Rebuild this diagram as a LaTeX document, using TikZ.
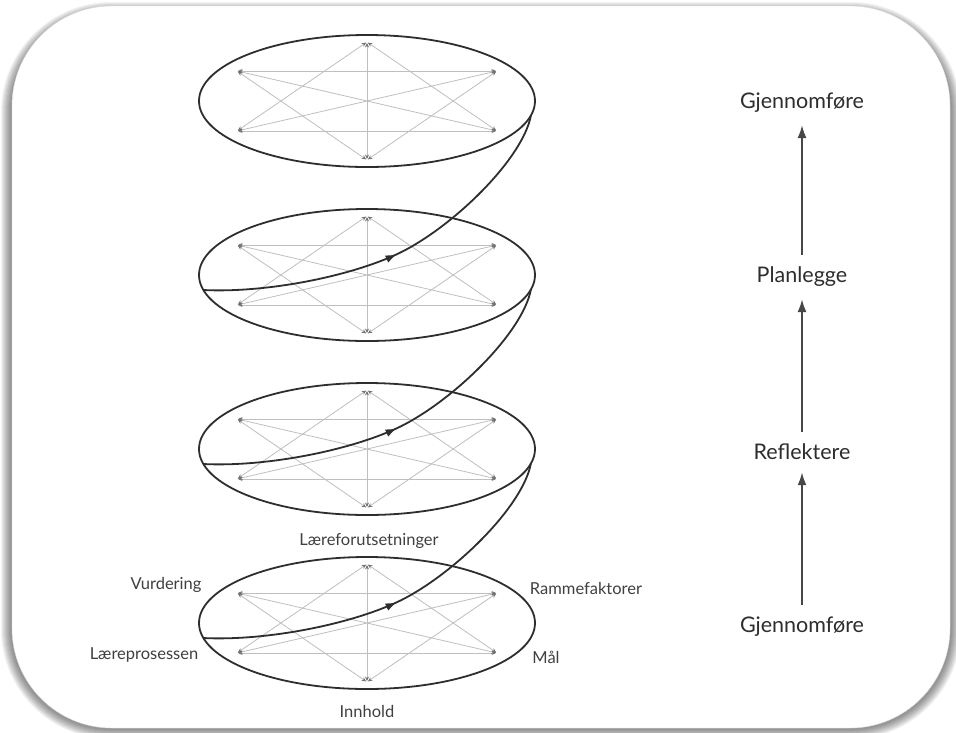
\documentclass[tikz,border=0pt]{standalone}
\usepackage{fontspec}
\setmainfont{Lato}
\usetikzlibrary{arrows.meta,decorations.markings,shapes.geometric}
\tikzset{
  disc/.style={ellipse, draw=black!82, line width=1.8pt, minimum width=336pt, minimum height=132pt, inner sep=0pt},
  hexl/.style={draw=black!25, line width=0.8pt, shorten <=1pt, shorten >=1pt,
    {Stealth[length=4.5pt,width=4pt,color=black!55]}-{Stealth[length=4.5pt,width=4pt,color=black!55]}},
  spiral/.style={draw=black!82, line width=1.8pt, postaction={decorate},
    decoration={markings, mark=at position 0.5 with {\arrow{Latex[length=11pt,width=8pt]}}}},
  lab/.style={text=black!75, inner sep=0pt, font=\fontsize{16.5}{19}\selectfont},
  rlab/.style={text=black!82, inner sep=0pt, font=\fontsize{21.5}{25}\selectfont},
  uparrow/.style={draw=black!72, line width=2pt, -{Latex[length=13pt,width=9pt]}, shorten <=12pt, shorten >=12pt}
}
\begin{document}
\begin{tikzpicture}[x=1pt,y=-1pt]
\useasboundingbox (0,0) rectangle (956,732);
% frame shadow
\foreach \k in {1,...,10}{
  \fill[black, opacity=0.05, rounded corners=100pt+\k pt] (12-\k-1,6-\k+6) rectangle (950+\k+1,728+\k+1);
}
\node[draw=black!12, line width=0.4pt, fill=white, rounded corners=100pt, minimum width=938pt, minimum height=722pt, inner sep=0pt] (frame) at (481,367) {};
% ellipses with hexagon graphs
\foreach \i/\cy in {1/101,2/275,3/449,4/623}{
  \coordinate (T\i) at (367,\cy-59);
  \coordinate (B\i) at (367,\cy+59);
  \coordinate (UL\i) at (237,\cy-30);
  \coordinate (UR\i) at (497,\cy-30);
  \coordinate (LL\i) at (237,\cy+30);
  \coordinate (LR\i) at (497,\cy+30);
  \coordinate (L\i) at (203,\cy+15);
  \coordinate (M\i) at (393,\cy-19);
  \coordinate (R\i) at (531,\cy+14);
  \draw[hexl] (T\i) -- (B\i);
  \draw[hexl] (UL\i) -- (UR\i);
  \draw[hexl] (LL\i) -- (LR\i);
  \draw[hexl] (UL\i) -- (LR\i);
  \draw[hexl] (UR\i) -- (LL\i);
  \draw[hexl] (T\i) -- (LL\i);
  \draw[hexl] (T\i) -- (LR\i);
  \draw[hexl] (B\i) -- (UL\i);
  \draw[hexl] (B\i) -- (UR\i);
  \node[disc] (E\i) at (367,\cy) {};
}
% spiral
\draw[spiral] (L4) .. controls +(60,3) and +(-50,22) .. (M4) .. controls +(55,-24) and +(-8,45) .. (R3);
\draw[spiral] (L3) .. controls +(60,3) and +(-50,22) .. (M3) .. controls +(55,-24) and +(-8,45) .. (R2);
\draw[spiral] (L2) .. controls +(60,3) and +(-50,22) .. (M2) .. controls +(55,-24) and +(-8,45) .. (R1);
% labels
\node[lab] (lf) at (369,541) {Læreforutsetninger};
\node[lab] (vu) at (166,585) {Vurdering};
\node[lab] (lp) at (144,655) {Læreprosessen};
\node[lab] (in) at (367,711) {Innhold};
\node[lab] (rf) at (586,588) {Rammefaktorer};
\node[lab] (ml) at (546,657) {Mål};
% right column
\node[rlab] (g2) at (802,103) {Gjennomføre};
\node[rlab] (pl) at (802,277) {Planlegge};
\node[rlab] (re) at (802,452) {Reflektere};
\node[rlab] (g1) at (802,627) {Gjennomføre};
\draw[uparrow] (g1) -- (re);
\draw[uparrow] (re) -- (pl);
\draw[uparrow] (pl) -- (g2);
\end{tikzpicture}
\end{document}
